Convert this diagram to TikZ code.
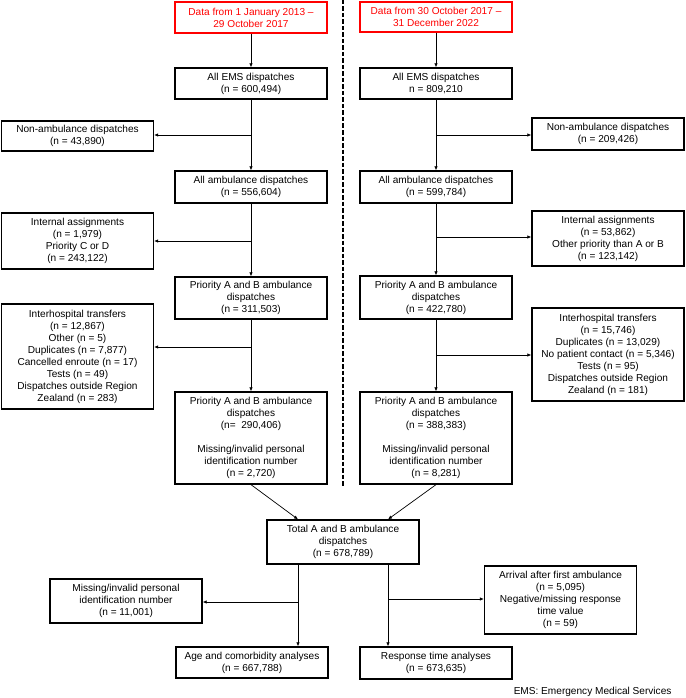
\documentclass[tikz,border=0pt]{standalone}
\usepackage{fontspec}
\setmainfont{Liberation Sans}
\usetikzlibrary{arrows.meta}
\tikzset{
  box/.style={draw, line width=1.3pt, align=center, minimum width=152pt,
    inner sep=2pt, font=\fontsize{10.1}{12}\selectfont},
  databox/.style={box, draw=red, text=red},
  flow/.style={-{Latex[length=4pt,width=3.5pt]}, line width=0.7pt},
}
\begin{document}
\begin{tikzpicture}[x=1pt,y=-1pt]
\useasboundingbox (0,0) rectangle (685,698);
% left period
\node[databox, minimum height=31pt] (dL) at (251,17.5) {Data from 1 January 2013 --\\29 October 2017};
\node[box, minimum height=31pt] (emsL) at (251,83.5) {All EMS dispatches\\(n = 600,494)};
\node[box, minimum height=30pt] (nonL) at (77.5,136) {Non-ambulance dispatches\\(n = 43,890)};
\node[box, minimum height=32pt] (ambL) at (251,187) {All ambulance dispatches\\(n = 556,604)};
\node[box, minimum height=56pt] (intL) at (77.5,241) {Internal assignments\\(n = 1,979)\\Priority C or D\\(n = 243,122)};
\node[box, minimum height=42pt] (priL) at (251,298) {Priority A and B ambulance\\dispatches\\(n = 311,503)};
\node[box, minimum height=105pt] (ihL) at (77.5,356.5) {Interhospital transfers\\(n = 12,867)\\Other (n = 5)\\Duplicates (n = 7,877)\\Cancelled enroute (n = 17)\\Tests (n = 49)\\Dispatches outside Region\\Zealand (n = 283)};
\node[box, minimum height=92pt] (finL) at (251,438) {Priority A and B ambulance\\dispatches\\(n=~ 290,406)\\[12pt]Missing/invalid personal\\identification number\\(n = 2,720)};
% right period
\node[databox, minimum height=30pt] (dR) at (436,17) {Data from 30 October 2017 --\\31 December 2022};
\node[box, minimum height=31pt] (emsR) at (436,83.5) {All EMS dispatches\\n = 809,210};
\node[box, minimum height=32pt] (nonR) at (608,134) {Non-ambulance dispatches\\(n = 209,426)};
\node[box, minimum height=32pt] (ambR) at (436,187) {All ambulance dispatches\\(n = 599,784)};
\node[box, minimum height=55pt] (intR) at (608,238.5) {Internal assignments\\(n = 53,862)\\Other priority than A or B\\(n = 123,142)};
\node[box, minimum height=43pt] (priR) at (436,297.5) {Priority A and B ambulance\\dispatches\\(n = 422,780)};
\node[box, minimum height=93pt] (ihR) at (608,354.5) {Interhospital transfers\\(n = 15,746)\\Duplicates (n = 13,029)\\No patient contact (n = 5,346)\\Tests (n = 95)\\Dispatches outside Region\\Zealand (n = 181)};
\node[box, minimum height=92pt] (finR) at (436,438) {Priority A and B ambulance\\dispatches\\(n = 388,383)\\[12pt]Missing/invalid personal\\identification number\\(n = 8,281)};
% merged
\node[box, minimum height=44pt] (tot) at (343,542) {Total A and B ambulance\\dispatches\\(n = 678,789)};
\node[box, minimum height=44pt] (missT) at (126,601) {Missing/invalid personal\\identification number\\(n = 11,001)};
\node[box, minimum height=31pt] (age) at (252,662.5) {Age and comorbidity analyses\\(n = 667,788)};
\node[box, minimum height=68pt] (arr) at (560.5,600) {Arrival after first ambulance\\(n = 5,095)\\Negative/missing response\\time value\\(n = 59)};
\node[box, minimum height=32pt] (resp) at (436,663) {Response time analyses\\(n = 673,635)};
\node[anchor=east, font=\fontsize{10.1}{12}\selectfont] (note) at (675,692) {EMS: Emergency Medical Services};

% divider
\draw[line width=2pt, dash pattern=on 4.5pt off 2pt] (343,0) -- (343,486);

% left column
\coordinate (bL1) at (251,135);
\coordinate (bL2) at (251,241);
\coordinate (bL3) at (251,347);
\draw[flow] (dL) -- (emsL);
\draw[flow] (emsL) -- (ambL);
\draw[flow] (ambL) -- (priL);
\draw[flow] (priL) -- (finL);
\draw[flow] (bL1) -- (bL1 -| nonL.east);
\draw[flow] (bL2) -- (bL2 -| intL.east);
\draw[flow] (bL3) -- (bL3 -| ihL.east);

% right column
\coordinate (bR1) at (436,135);
\coordinate (bR2) at (436,237);
\coordinate (bR3) at (436,355);
\draw[flow] (dR) -- (emsR);
\draw[flow] (emsR) -- (ambR);
\draw[flow] (ambR) -- (priR);
\draw[flow] (priR) -- (finR);
\draw[flow] (bR1) -- (bR1 -| nonR.west);
\draw[flow] (bR2) -- (bR2 -| intR.west);
\draw[flow] (bR3) -- (bR3 -| ihR.west);

% merge and analyses
\coordinate (tL) at ([xshift=-45pt]tot.south);
\coordinate (tR) at ([xshift=45pt]tot.south);
\coordinate (bT1) at (tL |- 0,602);
\coordinate (bT2) at (tR |- 0,599);
\draw[flow] (finL.south) -- ([xshift=-45pt]tot.north);
\draw[flow] (finR.south) -- ([xshift=45pt]tot.north);
\draw[flow] (tL) -- (tL |- age.north);
\draw[flow] (tR) -- (tR |- resp.north);
\draw[flow] (bT1) -- (bT1 -| missT.east);
\draw[flow] (bT2) -- (bT2 -| arr.west);
\end{tikzpicture}
\end{document}
